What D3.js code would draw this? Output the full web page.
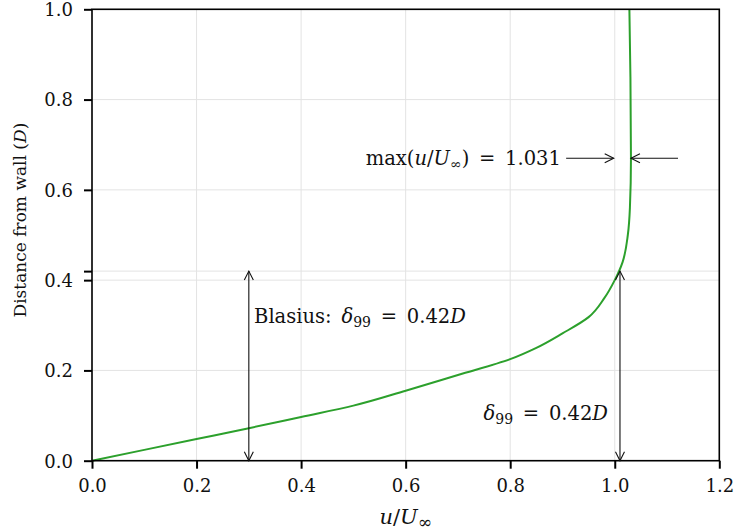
<!DOCTYPE html>
<html>
<head>
<meta charset="utf-8">
<script src="https://cdn.jsdelivr.net/npm/d3@7"></script>
<style>
  body { margin: 0; background: #fff; }
  svg text { font-family: "DejaVu Serif", serif; fill: #111; }
</style>
</head>
<body>
<div id="chart"></div>
<script>
// velocity profile
const uRatio = [0, 0.1, 0.2, 0.3, 0.4, 0.5, 0.6, 0.7, 0.8, 0.85, 0.9, 0.95, 0.98, 1.0, 1.015, 1.025, 1.029, 1.031, 1.030, 1.028];
const wallDist = [0, 0.024, 0.048, 0.072, 0.097, 0.122, 0.155, 0.19, 0.225, 0.25, 0.282, 0.318, 0.36, 0.4, 0.44, 0.5, 0.56, 0.67, 0.85, 1.0];

const xTicks = [0, 0.2, 0.4, 0.6, 0.8, 1.0, 1.2];
const yTicks = [0, 0.2, 0.4, 0.6, 0.8, 1.0];
const delta99 = 0.42;
const uMax = 1.031, uMaxAt = 0.67;

const FS = "17px", TICK = "18px", MATH = "19.5px", SUB = "14px";
const EQ = "\u2002=\u2002";

const margin = {top: 9.3, left: 92, right: 735 - 719.3, bottom: 531 - 460.7},
  width = 735 - margin.left - margin.right,
  height = 531 - margin.top - margin.bottom;

const svg = d3.select("#chart").append("svg")
  .attr("width", 735).attr("height", 531);

const defs = svg.append("defs");
defs.append("marker")
  .attr("id", "head")
  .attr("viewBox", "-10 -6 12 12")
  .attr("refX", 0).attr("refY", 0)
  .attr("markerWidth", 12).attr("markerHeight", 12)
  .attr("markerUnits", "userSpaceOnUse")
  .attr("orient", "auto-start-reverse")
  .append("path")
  .attr("d", "M-9,-4.5 L0,0 L-9,4.5")
  .attr("fill", "none").attr("stroke", "#111").attr("stroke-width", 1.1);

const g = svg.append("g")
  .attr("transform", "translate(" + margin.left + "," + margin.top + ")");

const x = d3.scaleLinear().domain([0, 1.2]).range([0, width]);
const y = d3.scaleLinear().domain([0, 1]).range([height, 0]);

// grid
g.append("g").selectAll("line").data(xTicks).join("line")
  .attr("x1", d => x(d)).attr("x2", d => x(d))
  .attr("y1", 0).attr("y2", height)
  .attr("stroke", "#e3e3e3").attr("stroke-width", 1);
g.append("g").selectAll("line").data(yTicks.concat([delta99])).join("line")
  .attr("x1", 0).attr("x2", width)
  .attr("y1", d => y(d)).attr("y2", d => y(d))
  .attr("stroke", "#e3e3e3").attr("stroke-width", 1);

// curve
const line = d3.line()
  .x((d, i) => x(uRatio[i]))
  .y(d => y(d))
  .curve(d3.curveMonotoneY);

g.append("path")
  .datum(wallDist)
  .attr("d", line)
  .attr("fill", "none")
  .attr("stroke", "#2ca02c")
  .attr("stroke-width", 2);

// frame
g.append("rect")
  .attr("width", width).attr("height", height)
  .attr("fill", "none").attr("stroke", "#000").attr("stroke-width", 1.6);

// axes
const xAxis = g.append("g")
  .attr("transform", "translate(0," + height + ")")
  .call(d3.axisBottom(x).tickValues(xTicks).tickFormat(d3.format(".1f")).tickSize(8).tickPadding(11));
const yAxis = g.append("g")
  .call(d3.axisLeft(y).tickValues(yTicks.concat([delta99]))
    .tickFormat(d => d === delta99 ? "" : d3.format(".1f")(d)).tickSize(8).tickPadding(11));

[xAxis, yAxis].forEach(a => {
  a.attr("font-family", null).attr("font-size", null);
  a.select(".domain").remove();
  a.selectAll(".tick line").attr("stroke", "#000").attr("stroke-width", 2);
  a.selectAll(".tick text")
    .style("font-family", "'DejaVu Serif', serif")
    .style("font-size", TICK).attr("fill", "#111");
});
yAxis.selectAll(".tick text").attr("dy", "0.35em");

// axis labels
const xl = g.append("text")
  .attr("x", x(0.6)).attr("y", height + 63)
  .attr("text-anchor", "middle").style("font-size", "21px");
xl.append("tspan").style("font-style", "italic").text("u");
xl.append("tspan").text("/");
xl.append("tspan").style("font-style", "italic").text("U");
xl.append("tspan").attr("dy", 4).style("font-size", "17px").text("∞");

const yl = g.append("text")
  .attr("transform", "translate(" + (-66) + "," + y(0.533) + ") rotate(-90)")
  .attr("text-anchor", "middle").style("font-size", FS);
yl.append("tspan").text("Distance from wall (");
yl.append("tspan").style("font-style", "italic").text("D");
yl.append("tspan").text(")");

// annotations
function arrow(x1, y1, x2, y2, both) {
  const l = g.append("line")
    .attr("x1", x(x1)).attr("y1", y(y1))
    .attr("x2", x(x2)).attr("y2", y(y2))
    .attr("stroke", "#111").attr("stroke-width", 1.1)
    .attr("marker-end", "url(#head)");
  if (both) l.attr("marker-start", "url(#head)");
}

function deltaLabel(tx, ty, anchor, prefix) {
  const t = g.append("text")
    .attr("x", x(tx)).attr("y", y(ty)).attr("dy", "0.35em")
    .attr("text-anchor", anchor).style("font-size", MATH);
  if (prefix) t.append("tspan").text(prefix);
  t.append("tspan").style("font-style", "italic").text("δ");
  t.append("tspan").attr("dy", 4).style("font-size", SUB).text("99");
  t.append("tspan").attr("dy", -4).text(EQ + "0.42");
  t.append("tspan").style("font-style", "italic").text("D");
}

arrow(0.3, 0, 0.3, delta99, true);
deltaLabel(0.31, 0.32, "start", "Blasius:\u2002");

arrow(1.01, 0, 1.01, delta99, true);
deltaLabel(0.987, 0.105, "end", null);

arrow(0.907, uMaxAt, 0.998, uMaxAt, false);
arrow(1.121, uMaxAt, uMax, uMaxAt, false);

const mt = g.append("text")
  .attr("x", x(0.897)).attr("y", y(uMaxAt)).attr("dy", "0.35em")
  .attr("text-anchor", "end").style("font-size", MATH);
mt.append("tspan").text("max(");
mt.append("tspan").style("font-style", "italic").text("u");
mt.append("tspan").text("/");
mt.append("tspan").style("font-style", "italic").text("U");
mt.append("tspan").attr("dy", 4).style("font-size", SUB).text("∞");
mt.append("tspan").attr("dy", -4).text(")" + EQ + uMax.toFixed(3));
</script>
</body>
</html>
